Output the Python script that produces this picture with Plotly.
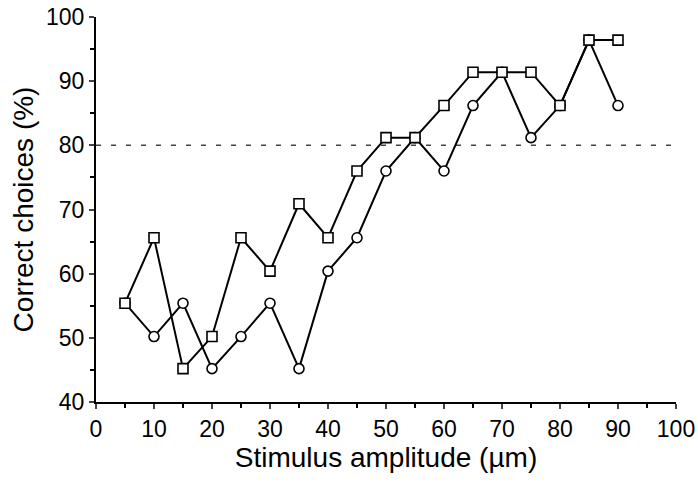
import plotly.graph_objects as go

amplitude = [5, 10, 15, 20, 25, 30, 35, 40, 45, 50, 55, 60, 65, 70, 75, 80, 85, 90]
squares = [55.4, 65.6, 45.2, 50.2, 65.6, 60.4, 70.9, 65.6, 76.0, 81.2, 81.2, 86.2, 91.4, 91.4, 91.4, 86.2, 96.4, 96.4]
circles = [55.4, 50.2, 55.4, 45.2, 50.2, 55.4, 45.2, 60.4, 65.6, 76.0, 81.2, 76.0, 86.2, 91.4, 81.2, 86.2, 96.4, 86.2]
criterion = 80
x_ticks = [0, 10, 20, 30, 40, 50, 60, 70, 80, 90, 100]
y_ticks = [40, 50, 60, 70, 80, 90, 100]

FONT = "Liberation Sans, Arial, Helvetica, sans-serif"

fig = go.Figure()
fig.add_trace(go.Scatter(
    x=amplitude, y=circles, mode="lines+markers",
    line=dict(color="black", width=2),
    marker=dict(symbol="circle", size=10, color="white", line=dict(color="black", width=1.6)),
    showlegend=False,
))
fig.add_trace(go.Scatter(
    x=amplitude, y=squares, mode="lines+markers",
    line=dict(color="black", width=2),
    marker=dict(symbol="square", size=10, color="white", line=dict(color="black", width=1.6)),
    showlegend=False,
))
fig.add_shape(type="line", xref="x", yref="y", x0=0, x1=100, y0=criterion, y1=criterion,
              line=dict(color="#444", width=1.5, dash="5px,10px"), layer="below")

fig.update_layout(
    width=698, height=482,
    margin=dict(l=96, r=22, t=17, b=80, autoexpand=False),
    paper_bgcolor="white", plot_bgcolor="white",
    font=dict(family=FONT, color="black", size=22),
)
fig.update_xaxes(
    range=[0, 100], tickvals=x_ticks, ticks="outside", ticklen=5, tickwidth=1.5,
    showline=True, linecolor="black", linewidth=2, showgrid=False, zeroline=False,
    automargin=False, ticklabeloverflow="allow",
    tickfont=dict(size=23, family=FONT),
    minor=dict(dtick=5, ticks="outside", ticklen=4, tickwidth=1.5, tickcolor="black", showgrid=False),
    title=dict(text="Stimulus amplitude (µm)", font=dict(size=28, family=FONT), standoff=0),
)
fig.update_yaxes(
    range=[40, 100], tickvals=y_ticks, ticks="outside", ticklen=5, tickwidth=1.5,
    showline=True, linecolor="black", linewidth=2, showgrid=False, zeroline=False,
    automargin=False, ticklabeloverflow="allow",
    tickfont=dict(size=23, family=FONT),
    minor=dict(dtick=5, ticks="outside", ticklen=4, tickwidth=1.5, tickcolor="black", showgrid=False),
    title=dict(text="Correct choices (%)", font=dict(size=28, family=FONT), standoff=4),
)

# remove the default 8px page margin so the 698x482 figure fills the window exactly
fig.write_html("out.html", config={"displayModeBar": False},
               post_script="document.body.style.margin='0';")
